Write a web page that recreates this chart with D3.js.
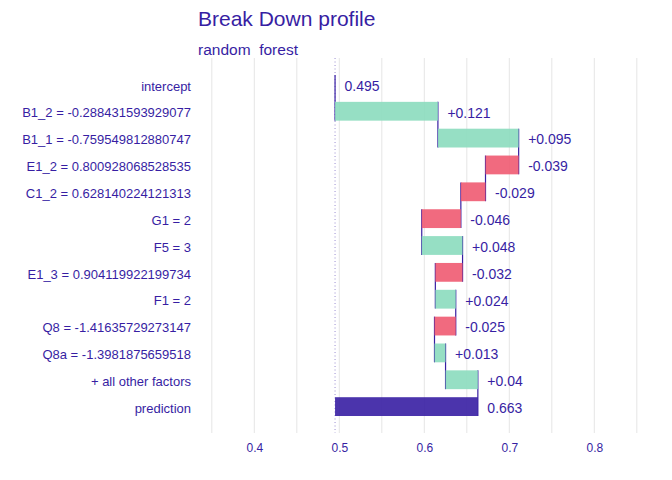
<!DOCTYPE html>
<html>
<head>
<meta charset="utf-8">
<script src="https://cdn.jsdelivr.net/npm/d3@7"></script>
<style>
  body { margin: 0; background: #fff; }
  text { font-family: "Liberation Sans", Arial, sans-serif; }
</style>
</head>
<body>
<div id="chart"></div>
<script>
const width = 672;
const height = 480;
const purple = "#371ea3";

// variables, top to bottom
const variables = [
    "intercept",
    "B1_2 = -0.288431593929077",
    "B1_1 = -0.759549812880747",
    "E1_2 = 0.800928068528535",
    "C1_2 = 0.628140224121313",
    "G1 = 2",
    "F5 = 3",
    "E1_3 = 0.904119922199734",
    "F1 = 2",
    "Q8 = -1.41635729273147",
    "Q8a = -1.3981875659518",
    "+ all other factors",
    "prediction"
];

const intercept = 0.495;
const prediction = 0.663;

// contributions of the middle rows (B1_2 ... all other factors)
const contributions = [0.121, 0.095, -0.039, -0.029, -0.046, 0.048, -0.032, 0.024, -0.025, 0.013, 0.038];
// printed labels, as they read on the chart
const valueLabels = ["0.495", "+0.121", "+0.095", "-0.039", "-0.029", "-0.046", "+0.048",
    "-0.032", "+0.024", "-0.025", "+0.013", "+0.04", "0.663"];

const xTicks = [0.4, 0.5, 0.6, 0.7, 0.8];
const gridTicks = [0.35, 0.4, 0.45, 0.5, 0.55, 0.6, 0.65, 0.7, 0.75, 0.8, 0.85];

// build rows: prev -> cumulative
let running = intercept;
const rows = variables.map((v, i) => {
    let prev, cum, kind;
    if (i === 0) {
        prev = intercept; cum = intercept; kind = "intercept";
    } else if (i === variables.length - 1) {
        prev = intercept; cum = prediction; kind = "prediction";
    } else {
        prev = running;
        cum = running + contributions[i - 1];
        running = cum;
        kind = contributions[i - 1] >= 0 ? "pos" : "neg";
    }
    return { name: v, prev, cum, kind, label: valueLabels[i] };
});

const fillColor = { pos: "#8bdcbe", neg: "#f05a71", prediction: purple, intercept: purple };

const x = d3.scaleLinear()
    .domain([0.35, 0.85])
    .range([211.8, 636.8]);

const y = d3.scaleBand()
    .domain(variables)
    .range([58, 433])
    .paddingInner(0.3)
    .paddingOuter(0.633);

const svg = d3.select("#chart")
    .append("svg")
    .attr("width", width)
    .attr("height", height);

// title
svg.append("text")
    .attr("x", 198)
    .attr("y", 26)
    .attr("fill", purple)
    .style("font-size", "21px")
    .text("Break Down profile");

svg.append("text")
    .attr("x", 198)
    .attr("y", 55)
    .attr("fill", purple)
    .style("font-size", "15.5px")
    .style("white-space", "pre")
    .attr("xml:space", "preserve")
    .text("random  forest");

// grid
svg.append("g")
    .selectAll("line")
    .data(gridTicks)
    .join("line")
        .attr("x1", d => x(d))
        .attr("x2", d => x(d))
        .attr("y1", 58)
        .attr("y2", 433)
        .attr("stroke", "#e5e5e5")
        .attr("stroke-width", 1);

// x axis labels
const xAxis = d3.axisBottom(x)
    .tickValues(xTicks)
    .tickSize(0)
    .tickPadding(10)
    .tickFormat(d3.format(".1f"));

const gx = svg.append("g")
    .attr("transform", "translate(0,433)")
    .call(xAxis);
gx.select(".domain").remove();
gx.selectAll("text")
    .attr("fill", purple)
    .style("font-size", "12px")
    .style("font-family", "'Liberation Sans', Arial, sans-serif");

// y axis labels
const yAxis = d3.axisLeft(y)
    .tickSize(0)
    .tickPadding(0);

const gy = svg.append("g")
    .attr("transform", "translate(191,0)")
    .call(yAxis);
gy.select(".domain").remove();
gy.selectAll("text")
    .attr("dy", "0.48em")
    .attr("fill", purple)
    .style("font-size", "13px")
    .style("font-family", "'Liberation Sans', Arial, sans-serif");

// intercept dotted line
svg.append("line")
    .attr("x1", x(intercept))
    .attr("x2", x(intercept))
    .attr("y1", 58)
    .attr("y2", 433)
    .attr("stroke", purple)
    .attr("stroke-opacity", 0.5)
    .attr("stroke-width", 1)
    .attr("stroke-dasharray", "1,2.5");

// connecting segments
svg.append("g")
    .selectAll("line")
    .data(rows.slice(0, -1))
    .join("line")
        .attr("x1", d => x(d.cum))
        .attr("x2", d => x(d.cum))
        .attr("y1", d => y(d.name))
        .attr("y2", (d, i) => y(variables[i + 1]) + y.bandwidth())
        .attr("stroke", purple)
        .attr("stroke-width", 1.2);

// bars
svg.append("g")
    .selectAll("rect")
    .data(rows)
    .join("rect")
        .attr("x", d => x(Math.min(d.prev, d.cum)))
        .attr("width", d => Math.abs(x(d.cum) - x(d.prev)))
        .attr("y", d => y(d.name))
        .attr("height", y.bandwidth())
        .attr("fill", d => fillColor[d.kind])
        .attr("fill-opacity", 0.9);

// value labels
svg.append("g")
    .selectAll("text")
    .data(rows)
    .join("text")
        .attr("x", d => x(Math.max(d.prev, d.cum)) + 9.5)
        .attr("y", d => y(d.name) + y.bandwidth() / 2)
        .attr("dy", "0.45em")
        .attr("fill", purple)
        .style("font-size", "14px")
        .text(d => d.label);
</script>
</body>
</html>
